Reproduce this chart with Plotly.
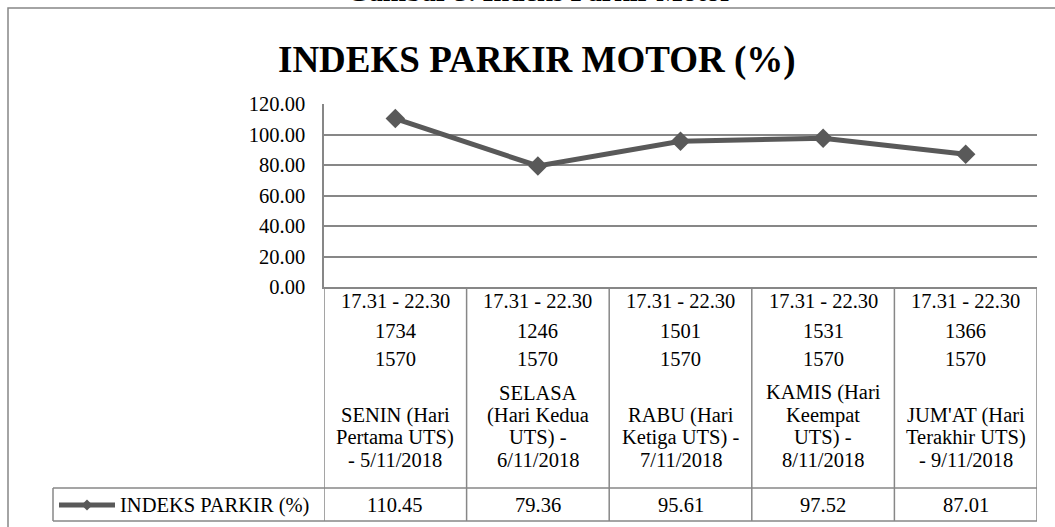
import plotly.graph_objects as go

# ---------------- data ----------------
time_ranges = ["17.31 - 22.30"] * 5
motor_counts = [1734, 1246, 1501, 1531, 1366]
capacity = [1570, 1570, 1570, 1570, 1570]
day_labels = [
    "SENIN (Hari<br>Pertama UTS)<br>- 5/11/2018",
    "SELASA<br>(Hari Kedua<br>UTS) -<br>6/11/2018",
    "RABU (Hari<br>Ketiga UTS) -<br>7/11/2018",
    "KAMIS (Hari<br>Keempat<br>UTS) -<br>8/11/2018",
    "JUM'AT (Hari<br>Terakhir UTS)<br>- 9/11/2018",
]
index_values = [110.45, 79.36, 95.61, 97.52, 87.01]
series_name = "INDEKS PARKIR (%)"
chart_title = "INDEKS PARKIR MOTOR (%)"
caption = "Gambar 3. Indeks Parkir Motor"
y_ticks = [0, 20, 40, 60, 80, 100, 120]

# ---------------- layout geometry (pixels) ----------------
W, H = 1055, 527
PL, PR, PT, PB = 324, 1037, 104, 287
FONT = "Liberation Serif, Times New Roman, serif"
GRAY = "#878787"
LINE = "#595959"
FS = 20.5


def yp(p):
    return (PB - p) / (PB - PT)


def xp(p):
    return (p - PL) / (PR - PL)


cats = list(range(len(index_values)))

fig = go.Figure()
fig.add_trace(go.Scatter(
    x=cats, y=index_values, mode="lines+markers", name=series_name,
    line=dict(color=LINE, width=5),
    marker=dict(symbol="diamond", size=15, color=LINE),
    showlegend=False, cliponaxis=False,
))

shapes = []
ann = []


def add_text(x, y, text, xref="x", **kw):
    d = dict(x=x, y=y, xref=xref, yref="paper", text=text, showarrow=False,
             xanchor="center", yanchor="middle")
    d.update(kw)
    ann.append(d)


# rows of the data table
ROW1, ROW2, ROW3 = 301, 331, 359
DAY_BOTTOM, DAY_STEP = 460, 22.5
LEG_TOP, LEG_BOT, LEG_TXT = 488, 521, 505
LEG_LEFT = 53

for i in cats:
    add_text(i, yp(ROW1), time_ranges[i])
    add_text(i, yp(ROW2), str(motor_counts[i]))
    add_text(i, yp(ROW3), str(capacity[i]))
    lines = day_labels[i].split("<br>")
    n = len(lines)
    for k, t in enumerate(lines):
        add_text(i, yp(DAY_BOTTOM - (n - 1 - k) * DAY_STEP), t)
    add_text(i, yp(LEG_TXT), f"{index_values[i]:.2f}")

# vertical separators of the table
for b in [c - 0.5 for c in cats] + [cats[-1] + 0.5]:
    shapes.append(dict(type="line", xref="x", yref="paper", x0=b, x1=b, y0=yp(PB), y1=yp(LEG_BOT),
                       line=dict(color=GRAY, width=1.5)))
# horizontal lines of legend row
for yy in (LEG_TOP, LEG_BOT):
    shapes.append(dict(type="line", xref="paper", yref="paper", x0=xp(LEG_LEFT), x1=1, y0=yp(yy), y1=yp(yy),
                       line=dict(color=GRAY, width=1.5)))
shapes.append(dict(type="line", xref="paper", yref="paper", x0=xp(LEG_LEFT), x1=xp(LEG_LEFT),
                   y0=yp(LEG_TOP), y1=yp(LEG_BOT), line=dict(color=GRAY, width=1.5)))

# legend key
shapes.append(dict(type="line", xref="paper", yref="paper", x0=xp(59), x1=xp(115), y0=yp(LEG_TXT), y1=yp(LEG_TXT),
                   line=dict(color=LINE, width=5)))
cx, cy, d = 87, LEG_TXT, 5.5
shapes.append(dict(type="path", xref="paper", yref="paper",
                   path=f"M {xp(cx-d)},{yp(cy)} L {xp(cx)},{yp(cy-d)} L {xp(cx+d)},{yp(cy)} L {xp(cx)},{yp(cy+d)} Z",
                   fillcolor=LINE, line=dict(color=LINE, width=0)))
add_text(xp(118), yp(LEG_TXT), series_name, xref="paper", xanchor="left")

# outer chart border
shapes.append(dict(type="rect", xref="paper", yref="paper", x0=xp(8), x1=xp(1070), y0=yp(8), y1=yp(540),
                   line=dict(color=GRAY, width=1.5), layer="below"))

# title and caption
add_text(xp(537), yp(60), f"<b>{chart_title}</b>", xref="paper",
         font=dict(size=37, family=FONT, color="black"))
add_text(xp(540), yp(-9), f"<b>{caption}</b>", xref="paper",
         font=dict(size=28, family=FONT, color="black"))

fig.update_layout(
    width=W, height=H, autosize=False,
    margin=dict(l=PL, r=W - PR, t=PT, b=H - PB, pad=0),
    paper_bgcolor="white", plot_bgcolor="white",
    font=dict(family=FONT, size=FS, color="black"),
    shapes=shapes, annotations=ann,
    xaxis=dict(range=[-0.5, len(cats) - 0.5], showgrid=False, showticklabels=False, zeroline=False,
               showline=True, linecolor=GRAY, linewidth=1.5, ticks=""),
    yaxis=dict(range=[0, 120], tickvals=y_ticks, ticktext=[f"{v:.2f}" for v in y_ticks],
               showgrid=True, gridcolor=GRAY, gridwidth=1.5, zeroline=False,
               showline=True, linecolor=GRAY, linewidth=1.5, ticks="", ticklabelstandoff=13,
               tickfont=dict(size=FS, family=FONT, color="black")),
)

fig.write_html("out.html", config={"displayModeBar": False},
               post_script="document.body.style.margin='0px';")
